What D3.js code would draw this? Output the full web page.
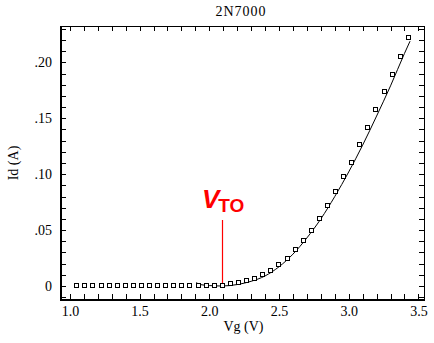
<!DOCTYPE html>
<html><head><meta charset="utf-8">
<script src="https://cdn.jsdelivr.net/npm/d3@7"></script>
<style>
html,body{margin:0;padding:0;background:#fff;}
svg{display:block;}
text{font-family:"Liberation Serif","Times New Roman",serif;fill:#000;}
</style></head>
<body><svg id="chart" width="434" height="343"></svg>
<script>
// ---- data ----
const title = "2N7000";
const xLabel = "Vg (V)";
const yLabel = "Id (A)";
// measured points: gate voltage (V)
const measVg = [1.053,1.111,1.169,1.227,1.285,1.343,1.401,1.459,1.517,1.575,1.633,1.691,1.749,1.807,1.865,1.923,1.981,2.039,2.097,2.155,2.213,2.271,2.329,2.387,2.445,2.503,2.561,2.619,2.677,2.735,2.793,2.851,2.909,2.967,3.025,3.083,3.141,3.199,3.257,3.315,3.373,3.431];
// measured drain current (A)
const measId = [0,0,0,0,0,0,0,0,0,0,0,0,0,0,0,0,0,0,0,0.0015,0.0027,0.0045,0.0060,0.0098,0.0130,0.0185,0.0244,0.0319,0.0402,0.0489,0.0599,0.0716,0.0843,0.0975,0.1103,0.1258,0.1410,0.1571,0.1733,0.1890,0.2051,0.2216];
// model curve
const fitVg = [1.905,1.94,2.0,2.09,2.2,2.3,2.4,2.5,2.6,2.7,2.8,2.9,3.0,3.1,3.2,3.3,3.4,3.44];
const fitId = [0.0030,0.0012,0.0004,0.0,0.0013,0.0042,0.0090,0.0172,0.0285,0.0430,0.0600,0.0800,0.1020,0.1260,0.1520,0.1790,0.2080,0.2190];
const vto = 2.093;
const xMajor = [1.0,1.5,2.0,2.5,3.0,3.5];
const yMajor = [0,0.05,0.10,0.15,0.20];
const yMajorLabels = ["0",".05",".10",".15",".20"];

// ---- layout ----
const svg = d3.select("#chart");
const L = 61, R = 424, T = 26, B = 299;
const x = d3.scaleLinear().domain([1,3.5]).range([69.9,418.4]);
const y = d3.scaleLinear().domain([0,0.2]).range([286,62.4]);
const xInv = [x.invert(L), x.invert(R)];
const yInv = [y.invert(B), y.invert(T)];

const xTicks = d3.range(Math.ceil(xInv[0]*10), Math.floor(xInv[1]*10)+1).map(d=>d/10);
const yTicks = d3.range(Math.ceil(yInv[0]*100), Math.floor(yInv[1]*100)+1).map(d=>d/100);
const isMajX = v => xMajor.some(m=>Math.abs(m-v)<1e-6);
const majYIdx = v => yMajor.findIndex(m=>Math.abs(m-v)<1e-6);

const fmtX = v => isMajX(v) ? d3.format(".1f")(v) : "";
const fmtY = v => { const i = majYIdx(v); return i>=0 ? yMajorLabels[i] : ""; };

function styleAxis(g){
  g.select(".domain").remove();
  g.selectAll(".tick line").attr("stroke","#000").attr("stroke-width",1).attr("shape-rendering","crispEdges");
  g.selectAll(".tick text").attr("font-family","'Liberation Serif','Times New Roman',serif").attr("font-size",14).attr("fill","#000");
}

svg.append("g").attr("transform",`translate(0,${B})`)
  .call(d3.axisBottom(x).tickValues(xTicks).tickSizeInner(-5).tickSizeOuter(0).tickPadding(7).tickFormat(fmtX))
  .call(styleAxis);
svg.append("g").attr("transform",`translate(0,${T})`)
  .call(d3.axisTop(x).tickValues(xTicks).tickSizeInner(-5).tickSizeOuter(0).tickFormat(""))
  .call(styleAxis);
svg.append("g").attr("transform",`translate(${L},0)`)
  .call(d3.axisLeft(y).tickValues(yTicks).tickSizeInner(-5).tickSizeOuter(0).tickPadding(9).tickFormat(fmtY))
  .call(styleAxis);
svg.append("g").attr("transform",`translate(${R},0)`)
  .call(d3.axisRight(y).tickValues(yTicks).tickSizeInner(-5).tickSizeOuter(0).tickFormat(""))
  .call(styleAxis);

// frame
const fr = svg.append("g").attr("stroke","#000").attr("shape-rendering","crispEdges");
fr.append("line").attr("x1",L-0.5).attr("x2",L-0.5).attr("y1",T).attr("y2",B+1).attr("stroke-width",2);
fr.append("line").attr("x1",L-1).attr("x2",R+1).attr("y1",B+0.5).attr("y2",B+0.5).attr("stroke-width",2);
fr.append("line").attr("x1",L).attr("x2",R).attr("y1",T+0.5).attr("y2",T+0.5).attr("stroke-width",1);
fr.append("line").attr("x1",R+0.5).attr("x2",R+0.5).attr("y1",T).attr("y2",B).attr("stroke-width",1);

// fit curve
const fitData = fitVg.map((v,i)=>[v,fitId[i]]);
svg.append("path").datum(fitData)
  .attr("fill","none").attr("stroke","#000").attr("stroke-width",1)
  .attr("d", d3.line().x(d=>x(d[0])).y(d=>y(d[1])).curve(d3.curveMonotoneX));

// red VTO line
svg.append("line").attr("x1",Math.round(x(vto))+0.5).attr("x2",Math.round(x(vto))+0.5)
  .attr("y1",220).attr("y2",y(0)+2).attr("stroke","#f00").attr("stroke-width",1.2);

// markers
svg.append("g").selectAll("rect").data(measVg.map((v,i)=>[v,measId[i]])).join("rect")
  .attr("x",d=>Math.round(x(d[0]))-2.5).attr("y",d=>Math.round(y(d[1]))-2.5)
  .attr("width",4).attr("height",4)
  .attr("fill","#fff").attr("stroke","#000").attr("stroke-width",1);

// VTO label
const vt = svg.append("text").attr("x",202).attr("y",207.5)
  .attr("style","font-family:'Liberation Sans',Arial,sans-serif;fill:#f00");
vt.append("tspan").attr("font-size",26).attr("font-style","italic").attr("font-weight","bold").text("V");
vt.append("tspan").attr("font-size",19).attr("font-weight","bold").attr("dy",4.5).attr("dx",-1).text("TO");

// titles
svg.append("text").attr("x",241).attr("y",15.5).attr("text-anchor","middle")
  .attr("font-size",14).attr("letter-spacing",1).text(title);
svg.append("text").attr("x",243.5).attr("y",331).attr("text-anchor","middle")
  .attr("font-size",14).text(xLabel);
svg.append("text").attr("transform","translate(18,163) rotate(-90)").attr("text-anchor","middle")
  .attr("font-size",14).text(yLabel);
</script></body></html>
